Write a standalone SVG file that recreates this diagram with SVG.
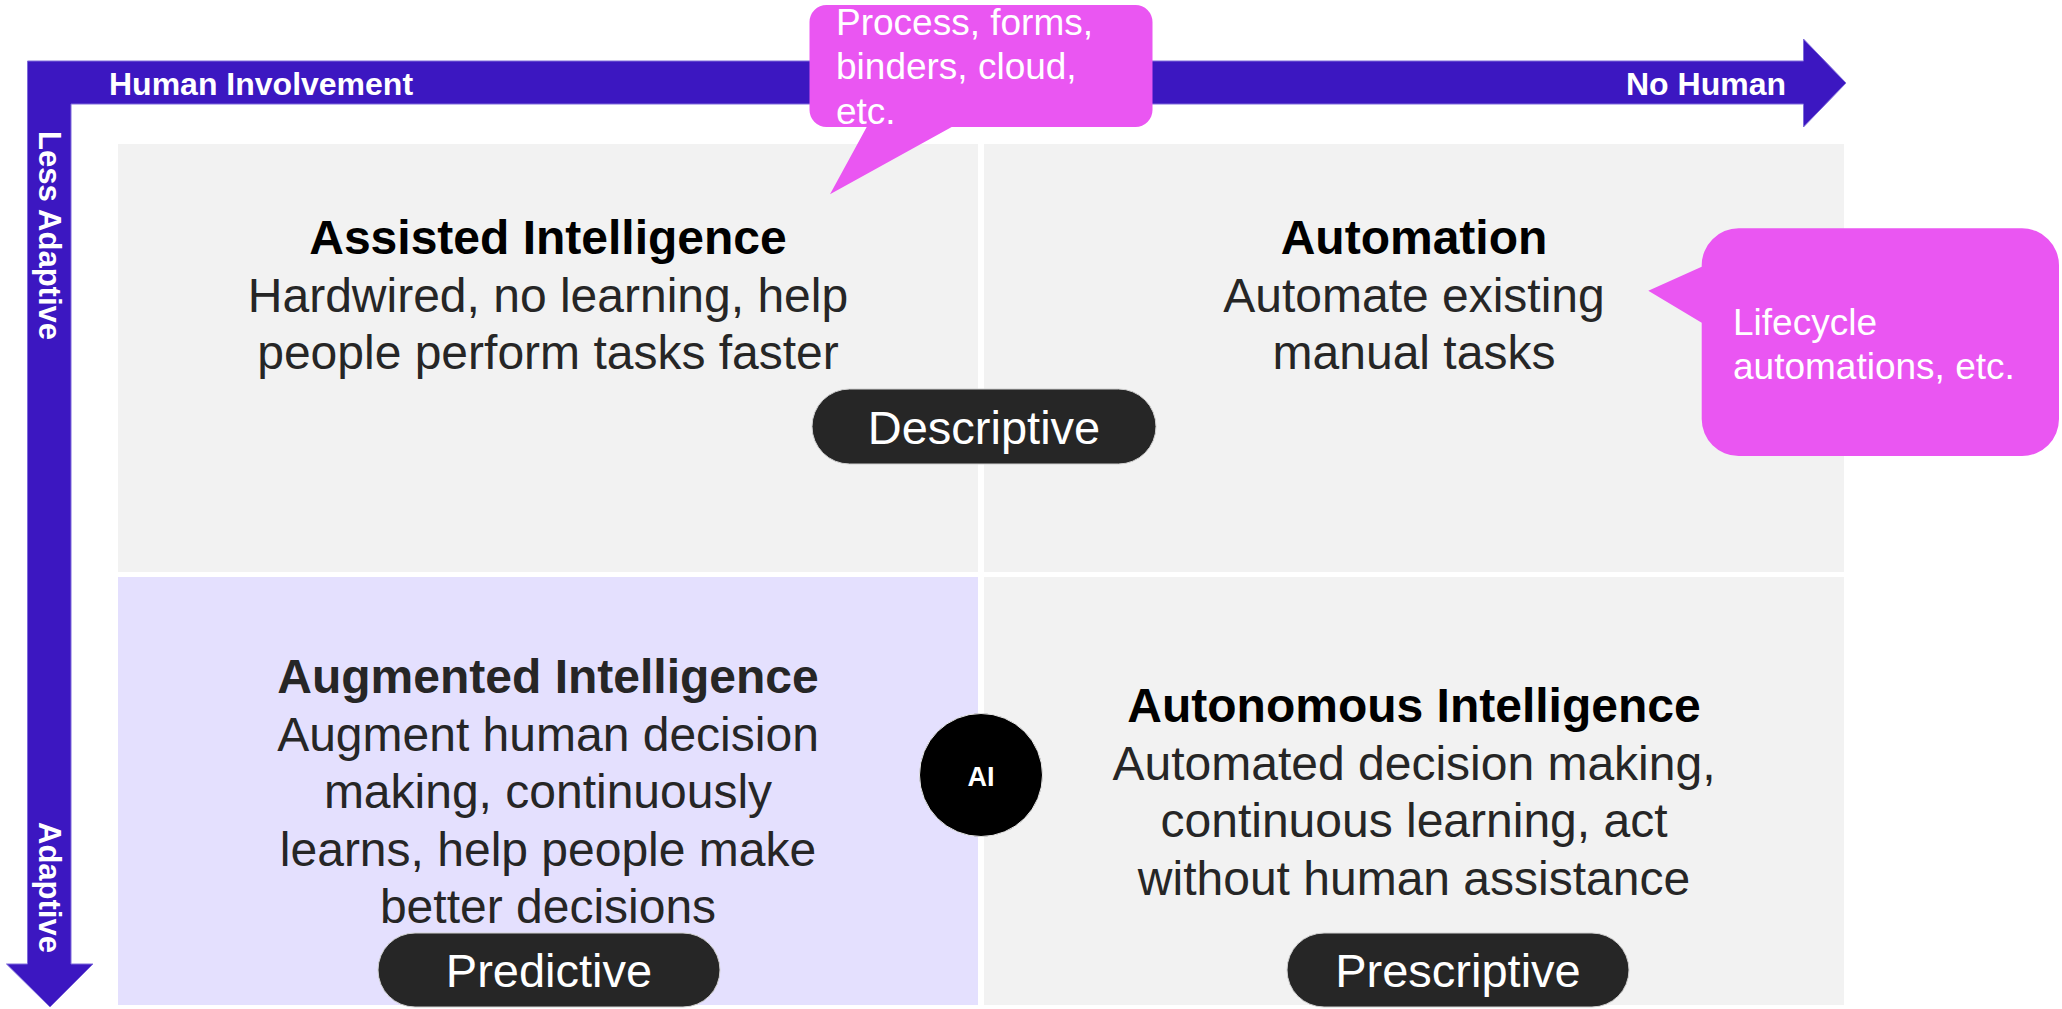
<svg xmlns="http://www.w3.org/2000/svg" width="2062" height="1009" viewBox="0 0 2062 1009">
  <style>
    text { font-family: "Liberation Sans", Arial, sans-serif; }
    .axis { fill: #3C17C1; stroke: #7E6BDB; stroke-width: 1; }
    .axislbl { font-size: 32px; font-weight: bold; fill: #FFFFFF; }
    .quad { fill: #F2F2F2; }
    .quadL { fill: #E4E0FE; }
    .title { font-size: 48px; font-weight: bold; fill: #000000; text-anchor: middle; }
    .body { font-size: 48px; fill: #262626; text-anchor: middle; }
    .pill { fill: #262626; stroke: #D0D0D0; stroke-width: 1; }
    .pilltxt { font-size: 47px; fill: #FFFFFF; text-anchor: middle; }
    .bubble { fill: #EA56F2; }
    .bubtxt { font-size: 37px; fill: #FFFFFF; }
  </style>

  <rect x="0" y="0" width="2062" height="1009" fill="#FFFFFF"/>

  <g id="quadrant-assisted">
    <rect class="quad" x="118" y="144" width="860" height="428"/>
    <text class="title" x="548" y="254">Assisted Intelligence</text>
    <text class="body" x="548" y="312">Hardwired, no learning, help</text>
    <text class="body" x="548" y="369">people perform tasks faster</text>
  </g>

  <g id="quadrant-automation">
    <rect class="quad" x="984" y="144" width="860" height="428"/>
    <text class="title" x="1414" y="254">Automation</text>
    <text class="body" x="1414" y="312">Automate existing</text>
    <text class="body" x="1414" y="369">manual tasks</text>
  </g>

  <g id="quadrant-augmented">
    <rect class="quadL" x="118" y="577" width="860" height="428"/>
    <text class="title" x="548" y="693" fill="#262626" style="fill:#262626">Augmented Intelligence</text>
    <text class="body" x="548" y="750.6">Augment human decision</text>
    <text class="body" x="548" y="808.2">making, continuously</text>
    <text class="body" x="548" y="865.8">learns, help people make</text>
    <text class="body" x="548" y="923.4">better decisions</text>
  </g>

  <g id="quadrant-autonomous">
    <rect class="quad" x="984" y="577" width="860" height="428"/>
    <text class="title" x="1414" y="722">Autonomous Intelligence</text>
    <text class="body" x="1414" y="779.6">Automated decision making,</text>
    <text class="body" x="1414" y="837.2">continuous learning, act</text>
    <text class="body" x="1414" y="894.8">without human assistance</text>
  </g>

  <g id="axes">
    <path class="axis" d="M27.5 61 H1803.5 V39 L1846 83 L1803.5 127 V104 H71 V964 H93 L50 1007 L6.5 964 H27.5 Z"/>
    <text class="axislbl" x="109" y="95">Human Involvement</text>
    <text class="axislbl" x="1786" y="95" text-anchor="end">No Human</text>
    <text class="axislbl" style="font-size:31px" transform="translate(38.8 131) rotate(90)">Less Adaptive</text>
    <text class="axislbl" style="font-size:31px" transform="translate(38.8 822) rotate(90)">Adaptive</text>
  </g>

  <g id="bubble-process">
    <path class="bubble" d="M826.5 5 H1135.5 A17 17 0 0 1 1152.5 22 V110 A17 17 0 0 1 1135.5 127 H951.7 L830 194.3 L866.7 127 H826.5 A17 17 0 0 1 809.5 110 V22 A17 17 0 0 1 826.5 5 Z"/>
    <text class="bubtxt" x="836" y="35">Process, forms,</text>
    <text class="bubtxt" x="836" y="79.4">binders, cloud,</text>
    <text class="bubtxt" x="836" y="123.8">etc.</text>
  </g>

  <g id="bubble-lifecycle">
    <path class="bubble" d="M1738.7 228.3 H2022 A37 37 0 0 1 2059 265.3 V419 A37 37 0 0 1 2022 456 H1738.7 A37 37 0 0 1 1701.7 419 V322.7 L1648.3 290.7 L1701.7 266.7 V265.3 A37 37 0 0 1 1738.7 228.3 Z"/>
    <text class="bubtxt" x="1733" y="335">Lifecycle</text>
    <text class="bubtxt" x="1733" y="379.4">automations, etc.</text>
  </g>

  <g id="pill-descriptive">
    <rect class="pill" x="812" y="389" width="344" height="75" rx="37.5"/>
    <text class="pilltxt" x="984" y="444">Descriptive</text>
  </g>

  <g id="pill-predictive">
    <rect class="pill" x="378" y="933" width="342" height="74" rx="37"/>
    <text class="pilltxt" x="549" y="987">Predictive</text>
  </g>

  <g id="pill-prescriptive">
    <rect class="pill" x="1287" y="933" width="342" height="74" rx="37"/>
    <text class="pilltxt" x="1458" y="987">Prescriptive</text>
  </g>

  <g id="ai-circle">
    <circle cx="981" cy="775" r="61.5" fill="#000000" stroke="#E6E6E6" stroke-width="1"/>
    <text x="981" y="786" font-size="27" font-weight="bold" fill="#FFFFFF" text-anchor="middle">AI</text>
  </g>
</svg>
